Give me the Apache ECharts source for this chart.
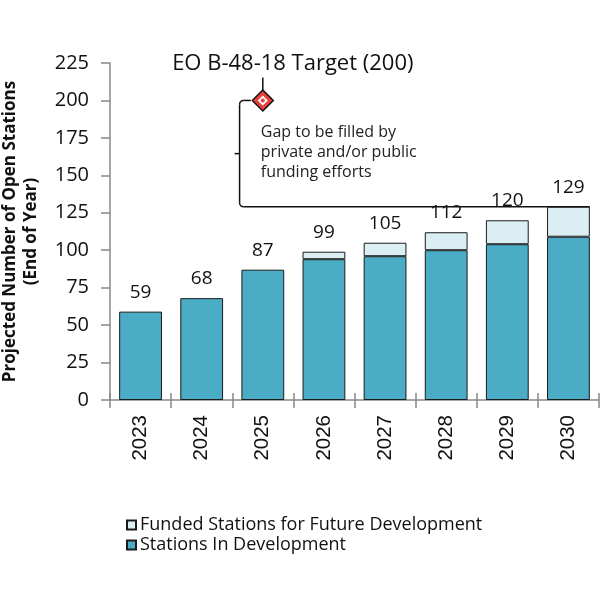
<!DOCTYPE html>
<html><head><meta charset="utf-8">
<script src="https://cdn.jsdelivr.net/npm/echarts@6/dist/echarts.min.js"></script>
<style>html,body{margin:0;padding:0;background:#fff}#c{width:600px;height:600px}</style>
</head><body><div id="c"></div>
<script>
const years = ['2023','2024','2025','2026','2027','2028','2029','2030'];
const inDevelopment = [59, 68, 87, 94, 96, 100, 104, 109];
const funded = ['-', '-', '-', 5, 9, 12, 16, 20];
const totals = [59, 68, 87, 99, 105, 112, 120, 129];
const yTicks = {min: 0, max: 225, interval: 25};
const target = {year: '2025', value: 200, label: 'EO B-48-18 Target (200)'};
const gapText = 'Gap to be filled by\nprivate and/or public\nfunding efforts';
const gapBottom = 129;

const FONT = '"Open Sans", Lato, sans-serif';
const chart = echarts.init(document.getElementById('c'));
const option = {
  animation: false,
  backgroundColor: '#fff',
  grid: {left: 110, right: 1, top: 63, bottom: 200, containLabel: false, outerBoundsMode: 'none'},
  legend: {
    orient: 'vertical', left: 126, top: 515, padding: 0, itemWidth: 9, itemHeight: 9, itemGap: 0,
    icon: 'rect',
    textStyle: {fontFamily: FONT, fontSize: 18, color: '#111', lineHeight: 20, padding: [0,0,0,-1]},
    data: ['Funded Stations for Future Development', 'Stations In Development']
  },
  xAxis: [{
    type: 'category', data: years,
    axisLine: {lineStyle: {color: '#888', width: 1.5}},
    axisTick: {show: true, length: 8, lineStyle: {color: '#888', width: 1.5}},
    axisLabel: {rotate: 90, fontSize: 20.5, color: '#111', margin: 15, fontFamily: '"Liberation Sans", Arial, sans-serif'}
  }, {
    type: 'category', data: years, position: 'bottom',
    axisLine: {show: false},
    axisTick: {show: true, inside: true, length: 7, lineStyle: {color: '#888', width: 1.5}},
    axisLabel: {show: false}
  }],
  yAxis: {
    type: 'value', min: yTicks.min, max: yTicks.max, interval: yTicks.interval,
    name: 'Projected Number of Open Stations\n(End of Year)',
    nameLocation: 'middle', nameGap: 68, nameRotate: 90,
    nameTextStyle: {fontFamily: FONT, fontWeight: 'bold', fontSize: 17, color: '#111', lineHeight: 21},
    splitLine: {show: false},
    axisLine: {show: true, lineStyle: {color: '#888', width: 1.5}},
    axisTick: {show: true, length: 9, lineStyle: {color: '#888', width: 1.5}},
    axisLabel: {fontSize: 20, color: '#111', margin: 21, fontFamily: FONT}
  },
  series: [
    {
      name: 'Stations In Development', type: 'bar', stack: 's', data: inDevelopment,
      barWidth: '70%',
      itemStyle: {color: '#4bacc6', borderColor: '#1a1a1a', borderWidth: 1}
    },
    {
      name: 'Funded Stations for Future Development', type: 'bar', stack: 's', data: funded,
      barWidth: '70%',
      itemStyle: {color: '#dbeef4', borderColor: '#1a1a1a', borderWidth: 1}
    },
    {
      name: 'totals', type: 'bar', stack: 's', data: years.map(() => 0),
      barWidth: '70%', silent: true,
      itemStyle: {color: 'rgba(0,0,0,0)', borderWidth: 0},
      label: {show: true, position: 'top', distance: 10, fontSize: 19, color: '#111', fontFamily: FONT,
        formatter: p => String(totals[p.dataIndex])}
    },
    {
      name: 'target', type: 'scatter', data: [[target.year, target.value]], symbol: 'diamond', symbolSize: 21,
      itemStyle: {color: '#e8403a', borderColor: '#111', borderWidth: 1.5, opacity: 1}, z: 5,
      label: {show: true, position: 'top', distance: 14, offset: [30, 0], formatter: target.label, fontSize: 22, color: '#111', fontFamily: FONT}
    },
    {
      name: 'targetInner', type: 'scatter', data: [[target.year, target.value]], symbol: 'diamond', symbolSize: 10,
      itemStyle: {color: '#fff', opacity: 1}, z: 6, silent: true
    },
    {
      name: 'targetDot', type: 'scatter', data: [[target.year, target.value]], symbol: 'circle', symbolSize: 4,
      itemStyle: {color: '#e8403a', opacity: 1}, z: 7, silent: true
    }
  ]
};
chart.setOption(option);

const idx = years.indexOf(target.year);
const p200 = chart.convertToPixel({xAxisIndex: 0, yAxisIndex: 0}, [idx, target.value]);
const pBot = chart.convertToPixel({xAxisIndex: 0, yAxisIndex: 0}, [idx, gapBottom]);
const pLast = chart.convertToPixel({xAxisIndex: 0, yAxisIndex: 0}, [years.length - 1, gapBottom]);
const band = chart.convertToPixel({xAxisIndex: 0}, 1) - chart.convertToPixel({xAxisIndex: 0}, 0);
const bx = p200[0] - band * 0.38;
const rightX = pLast[0] + band * 0.35;
const midY = (p200[1] + pBot[1]) / 2;
const r = 4;
const ls = {stroke: '#111', lineWidth: 1.5, fill: null};
chart.setOption({
  graphic: [
    {type: 'line', shape: {x1: p200[0], y1: p200[1] - 23, x2: p200[0], y2: p200[1] - 10}, style: ls, z: 10},
    {type: 'polyline', shape: {points: [[p200[0] - 12, p200[1]], [bx + r, p200[1]]]}, style: ls},
    {type: 'arc', shape: {cx: bx + r, cy: p200[1] + r, r: r, startAngle: Math.PI, endAngle: Math.PI * 1.5}, style: ls},
    {type: 'line', shape: {x1: bx, y1: p200[1] + r, x2: bx, y2: pBot[1] - r}, style: ls},
    {type: 'arc', shape: {cx: bx + r, cy: pBot[1] - r, r: r, startAngle: Math.PI * 0.5, endAngle: Math.PI}, style: ls},
    {type: 'line', shape: {x1: bx + r, y1: pBot[1], x2: rightX, y2: pBot[1]}, style: ls},
    {type: 'line', shape: {x1: bx - 5, y1: midY, x2: bx, y2: midY}, style: ls},
    {type: 'text', x: p200[0] - 2, y: p200[1] + 22,
      style: {text: gapText, font: '16px ' + FONT, fill: '#222', lineHeight: 20, textAlign: 'left', textVerticalAlign: 'top'}}
  ]
});
</script></body></html>
